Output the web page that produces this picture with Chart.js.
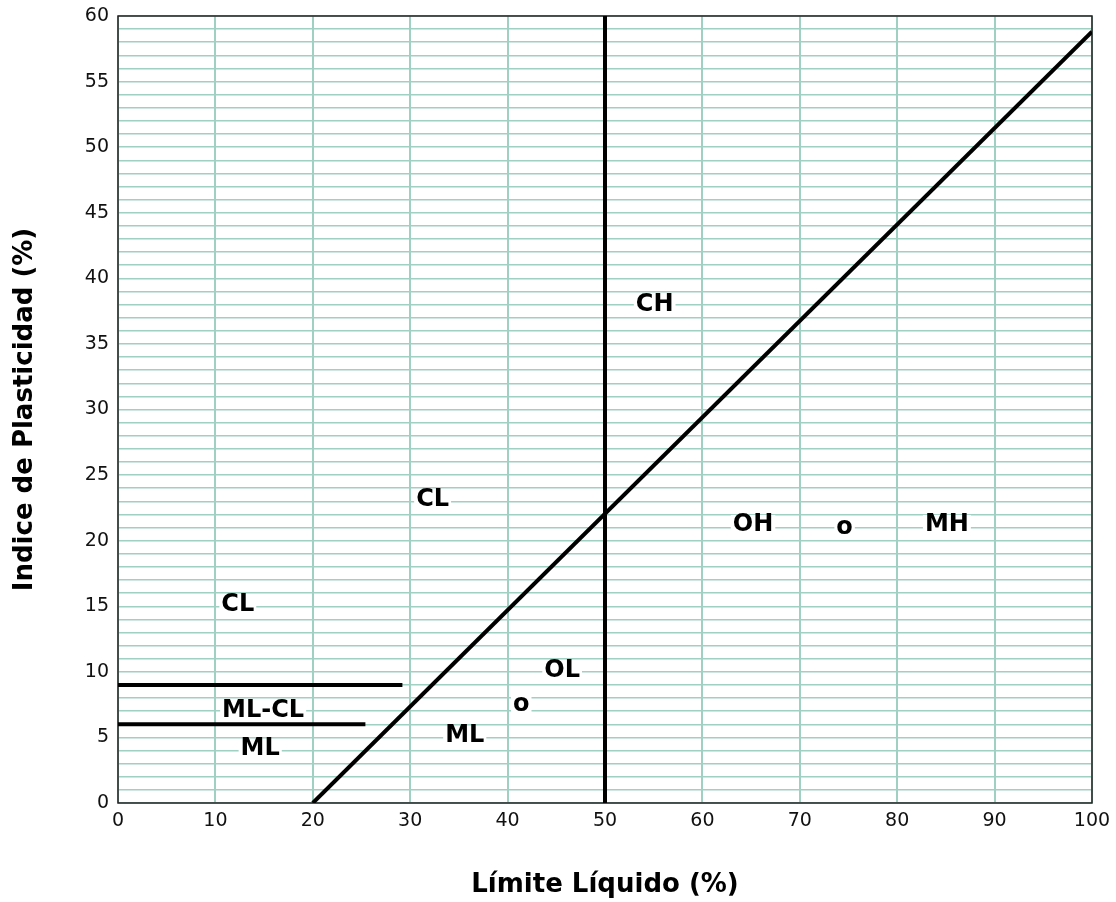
<!DOCTYPE html>
<html><head><meta charset="utf-8">
<script src="https://cdn.jsdelivr.net/npm/chart.js@4.4.1/dist/chart.umd.min.js"></script>
<style>html,body{margin:0;padding:0;background:#fff;}</style>
</head><body>
<canvas id="c" width="1116" height="902" style="display:block"></canvas>
<script>
// ---- data ----
const xTitle = 'Límite Líquido (%)';
const yTitle = 'Indice de Plasticidad (%)';
const xMin = 0, xMax = 100, xStep = 10;
const yMin = 0, yMax = 60, yStep = 1, yLabelEvery = 5;

const aLineX = [20, 100];
const aLineY = [0, 58.8];
const vLineX = [50, 50];
const vLineY = [0, 60];
const h9X = [0, 29.2];
const h9Y = [9, 9];
const h6X = [0, 25.4];
const h6Y = [6, 6];

const zoneLabels = ['CH', 'CL', 'CL', 'ML-CL', 'ML', 'ML', 'o', 'OL', 'OH', 'o', 'MH'];
const zoneX = [55.1, 32.3, 12.3, 14.9, 14.6, 35.6, 41.4, 45.6, 65.2, 74.6, 85.1];
const zoneY = [38.0, 23.1, 15.1, 7.0, 4.1, 5.1, 7.5, 10.1, 21.2, 21.0, 21.2];

function pts(xs, ys) { return xs.map((x, i) => ({x: x, y: ys[i]})); }

const lineStyle = {showLine: true, borderColor: '#000', borderWidth: 4, pointRadius: 0, fill: false, borderCapStyle: 'butt'};

const framePlugin = {
  id: 'frame',
  beforeDatasetsDraw(chart) {
    const {ctx, chartArea: a} = chart;
    ctx.save();
    ctx.strokeStyle = '#222';
    ctx.lineWidth = 1.5;
    ctx.strokeRect(a.left, a.top, a.right - a.left, a.bottom - a.top);
    ctx.restore();
  }
};

const labelPlugin = {
  id: 'zoneLabels',
  afterDatasetsDraw(chart) {
    const {ctx} = chart;
    const xs = chart.scales.x, ys = chart.scales.y;
    ctx.save();
    ctx.font = 'bold 24px "DejaVu Sans"';
    ctx.textAlign = 'center';
    ctx.textBaseline = 'middle';
    zoneLabels.forEach((t, i) => {
      const px = xs.getPixelForValue(zoneX[i]);
      const py = ys.getPixelForValue(zoneY[i]);
      const w = ctx.measureText(t).width;
      ctx.fillStyle = '#fff';
      ctx.fillRect(px - w / 2 - 2, py - 10, w + 4, 20);
      ctx.fillStyle = '#000';
      ctx.fillText(t, px, py);
    });
    ctx.restore();
  }
};

new Chart(document.getElementById('c'), {
  type: 'scatter',
  data: {
    datasets: [
      Object.assign({label: 'A', data: pts(aLineX, aLineY)}, lineStyle),
      Object.assign({label: 'LL50', data: pts(vLineX, vLineY)}, lineStyle),
      Object.assign({label: 'IP9', data: pts(h9X, h9Y)}, lineStyle),
      Object.assign({label: 'IP6', data: pts(h6X, h6Y)}, lineStyle)
    ]
  },
  options: {
    responsive: false,
    animation: false,
    devicePixelRatio: 1,
    layout: {padding: {left: 0, right: 24, top: 16, bottom: 0}},
    plugins: {legend: {display: false}, tooltip: {enabled: false}},
    scales: {
      x: {
        type: 'linear', min: xMin, max: xMax,
        afterFit: s => { s.height = 99; s.paddingLeft = 0; s.paddingRight = 0; },
        ticks: {stepSize: xStep, color: '#111', font: {family: 'DejaVu Sans', size: 19}, padding: 7, maxRotation: 0},
        grid: {color: '#9fd0c1', lineWidth: 2, drawTicks: false},
        border: {display: false},
        title: {display: true, text: xTitle, color: '#000', font: {family: 'DejaVu Sans', size: 26, weight: 'bold'}, padding: {top: 0, bottom: 1.5}}
      },
      y: {
        type: 'linear', min: yMin, max: yMax,
        afterFit: s => { s.width = 118; s.paddingTop = 0; s.paddingBottom = 0; },
        ticks: {stepSize: yStep, autoSkip: false, color: '#111', font: {family: 'DejaVu Sans', size: 19}, padding: 9,
          callback: v => (v % yLabelEvery === 0 ? String(v) : '')},
        grid: {color: '#9fd0c1', lineWidth: 1.5, drawTicks: false},
        border: {display: false},
        title: {display: true, text: yTitle, color: '#000', font: {family: 'DejaVu Sans', size: 26, weight: 'bold'}, padding: {top: 10, bottom: 0}}
      }
    }
  },
  plugins: [framePlugin, labelPlugin]
});
</script>
</body></html>
